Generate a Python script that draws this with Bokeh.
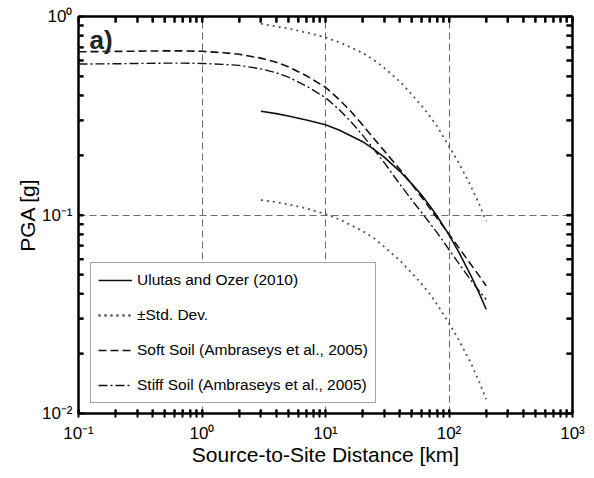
from bokeh.plotting import figure
from bokeh.models import (LogAxis, CustomJSTickFormatter, Legend, LegendItem,
                          Label, FixedTicker, Range1d)
from bokeh.embed import file_html
from bokeh.resources import INLINE

# ---- data ----
dist_ulutas = [3, 4, 5, 7, 10, 13, 16, 20, 25, 30, 40, 50, 60, 70, 80, 100, 120, 150, 175, 200]
pga_ulutas = [0.333, 0.324, 0.315, 0.301, 0.285, 0.267, 0.251, 0.234, 0.213, 0.195, 0.166,
              0.1435, 0.126, 0.111, 0.0989, 0.0794, 0.065, 0.0497, 0.0405, 0.0335]
pga_plus_std = [0.92, 0.89, 0.87, 0.83, 0.785, 0.74, 0.70, 0.655, 0.60, 0.55, 0.47, 0.405,
                0.355, 0.315, 0.28, 0.222, 0.183, 0.14, 0.114, 0.093]
pga_minus_std = [0.119, 0.116, 0.113, 0.108, 0.101, 0.095, 0.089, 0.083, 0.076, 0.069, 0.059,
                 0.051, 0.045, 0.040, 0.0355, 0.0285, 0.0235, 0.018, 0.0145, 0.0118]

dist_amb = [0.1, 0.2, 0.3, 0.5, 0.7, 1, 1.5, 2, 3, 4, 5, 7, 10, 13, 16, 20, 25, 30, 40, 50,
            60, 70, 80, 100, 120, 150, 175, 200]
pga_soft = [0.664, 0.667, 0.669, 0.671, 0.671, 0.668, 0.657, 0.645, 0.617, 0.588, 0.558, 0.503,
            0.440, 0.380, 0.333, 0.284, 0.240, 0.210, 0.170, 0.143, 0.123, 0.108, 0.0965,
            0.080, 0.0685, 0.0565, 0.0495, 0.044]
pga_stiff = [0.576, 0.578, 0.580, 0.582, 0.582, 0.580, 0.574, 0.567, 0.545, 0.520, 0.495, 0.447,
             0.390, 0.338, 0.296, 0.252, 0.212, 0.183, 0.143, 0.119, 0.103, 0.091, 0.0815,
             0.067, 0.057, 0.047, 0.0415, 0.0375]

x_major_ticks = [0.1, 1, 10, 100, 1000]
y_major_ticks = [0.01, 0.1, 1]
minor_mantissas = [2, 3, 4, 5, 6, 7, 8, 9]
x_grid_lines = [1, 10, 100]
y_grid_lines = [0.1]
x_limits = (0.1, 1000)
y_limits = (0.01, 1)

labels = ["Ulutas and Ozer (2010)", "\u00b1Std. Dev.",
          "Soft Soil (Ambraseys et al., 2005)", "Stiff Soil (Ambraseys et al., 2005)"]

FONT = "Liberation Sans"
FRAME_W, FRAME_H = 494, 397


def minors(majors):
    return [m * t for t in majors[:-1] for m in minor_mantissas]


p = figure(x_axis_type="log", y_axis_type="log",
           x_range=Range1d(*x_limits), y_range=Range1d(*y_limits),
           frame_width=FRAME_W, frame_height=FRAME_H,
           min_border_left=78, min_border_right=14, min_border_top=16, min_border_bottom=57,
           output_backend="svg", toolbar_location=None)
p.background_fill_color = "white"
p.border_fill_color = "white"
p.outline_line_color = "black"
p.outline_line_width = 2

sup_code = """
const e = Math.round(Math.log10(tick));
const sup = {'-':'\u207b','0':'\u2070','1':'\u00b9','2':'\u00b2','3':'\u00b3','4':'\u2074',
             '5':'\u2075','6':'\u2076','7':'\u2077','8':'\u2078','9':'\u2079'};
return '10' + String(e).split('').map(c => sup[c]).join('');
"""


def style_axis(ax, majors, labels_on, tin, tout):
    ax.ticker = FixedTicker(ticks=majors, minor_ticks=minors(majors))
    ax.axis_line_width = 2
    ax.axis_line_color = "black"
    ax.major_tick_line_color = "black"
    ax.minor_tick_line_color = "black"
    ax.major_tick_line_width = 2
    ax.minor_tick_line_width = 2
    ax.major_tick_in = tin
    ax.major_tick_out = tout
    ax.minor_tick_in = tin
    ax.minor_tick_out = tout
    if labels_on:
        ax.formatter = CustomJSTickFormatter(code=sup_code)
        ax.major_label_text_font = FONT
        ax.major_label_text_font_size = "17px"
        ax.major_label_text_color = "black"
        ax.axis_label_text_font = FONT
        ax.axis_label_text_font_size = "21px"
        ax.axis_label_text_font_style = "normal"
        ax.axis_label_text_color = "black"
    else:
        ax.major_label_text_font_size = "0px"
        ax.major_label_text_color = None


xb = p.xaxis[0]
yl = p.yaxis[0]
style_axis(xb, x_major_ticks, True, 4, 4)
style_axis(yl, y_major_ticks, True, 5, 0)
xb.axis_label = "Source-to-Site Distance [km]"
yl.axis_label = "PGA [g]"
xb.major_label_standoff = 6
xb.axis_label_standoff = -3
yl.major_label_standoff = 6
yl.axis_label_standoff = 0

top = LogAxis()
style_axis(top, x_major_ticks, False, 6, 0)
p.add_layout(top, "above")
right = LogAxis()
style_axis(right, y_major_ticks, False, 6, 0)
p.add_layout(right, "right")

p.xgrid[0].ticker = FixedTicker(ticks=x_grid_lines)
p.ygrid[0].ticker = FixedTicker(ticks=y_grid_lines)
for g in (p.xgrid[0], p.ygrid[0]):
    g.grid_line_color = "#6a6a6a"
    g.grid_line_dash = "7 4"
    g.grid_line_width = 1
    g.minor_grid_line_color = None

# inward frame tick marks, placed at the tick lists through the log scales
x_ticks_all = sorted(x_major_ticks + minors(x_major_ticks))
y_ticks_all = sorted(y_major_ticks + minors(y_major_ticks))
px_per_dec_x = FRAME_W / 4.0
px_per_dec_y = FRAME_H / 2.0
k_left = 10 ** (5 / px_per_dec_x)
k_right = 10 ** (6 / px_per_dec_x)
k_top = 10 ** (6 / px_per_dec_y)
k_bottom = 10 ** (4 / px_per_dec_y)
n_y = len(y_ticks_all)
n_x = len(x_ticks_all)
p.segment(x0=[x_limits[0]] * n_y, x1=[x_limits[0] * k_left] * n_y, y0=y_ticks_all, y1=y_ticks_all,
          line_color="black", line_width=2)
p.segment(x0=[x_limits[1]] * n_y, x1=[x_limits[1] / k_right] * n_y, y0=y_ticks_all, y1=y_ticks_all,
          line_color="black", line_width=2)
p.segment(x0=x_ticks_all, x1=x_ticks_all, y0=[y_limits[1]] * n_x, y1=[y_limits[1] / k_top] * n_x,
          line_color="black", line_width=2)
p.segment(x0=x_ticks_all, x1=x_ticks_all, y0=[y_limits[0]] * n_x, y1=[y_limits[0] * k_bottom] * n_x,
          line_color="black", line_width=2)

r_ul = p.line(dist_ulutas, pga_ulutas, line_color="#111111", line_width=1.6)
r_up = p.line(dist_ulutas, pga_plus_std, line_color="#555555", line_width=1.8, line_dash="2 4")
r_lo = p.line(dist_ulutas, pga_minus_std, line_color="#555555", line_width=1.8, line_dash="2 4")
r_soft = p.line(dist_amb, pga_soft, line_color="#111111", line_width=1.6, line_dash="8 4")
r_stiff = p.line(dist_amb, pga_stiff, line_color="#111111", line_width=1.4, line_dash="9 3 2 3")

legend = Legend(items=[LegendItem(label=labels[0], renderers=[r_ul]),
                       LegendItem(label=labels[1], renderers=[r_up, r_lo]),
                       LegendItem(label=labels[2], renderers=[r_soft]),
                       LegendItem(label=labels[3], renderers=[r_stiff])],
                location=(12, 10))
legend.label_text_font = FONT
legend.label_text_font_size = "15.5px"
legend.label_text_color = "black"
legend.glyph_width = 34
legend.glyph_height = 20
legend.label_standoff = 5
legend.spacing = 15
legend.padding = 7
legend.margin = 0
legend.border_line_color = "#444444"
legend.border_line_width = 1
legend.background_fill_color = "white"
legend.background_fill_alpha = 1
p.add_layout(legend, "center")

p.add_layout(Label(x=11, y=374, x_units="screen", y_units="screen", text="a)",
                   text_font=FONT, text_font_size="26px", text_font_style="bold",
                   text_baseline="middle", text_color="#222222"))

open("out.html", "w").write(file_html(p, INLINE))
